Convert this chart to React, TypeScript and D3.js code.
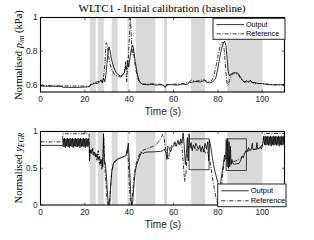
import React from "react";
import * as d3 from "d3";

const xTicks = [0, 20, 40, 60, 80, 100];
const pimTicks = [0.6, 0.8, 1];
const egrTicks = [0, 0.5, 1];
const pimTickLabels = ["0.6", "0.8", "1"];
const egrTickLabels = ["0", "0.5", "1"];

// shaded time intervals (s)
const shaded: [number, number][] = [
  [22.2, 24.9], [25.8, 28.5], [32.1, 34.8], [39.2, 39.8], [43.0, 51.8],
  [55.7, 57.0], [67.9, 74.2], [84.2, 100.0],
];

// highlight boxes in bottom plot: [t0, t1, y0, y1]
const boxes: [number, number, number, number][] = [
  [67.0, 76.0, 0.48, 0.9],
  [83.7, 92.8, 0.47, 0.9],
];

const pimOut: [number, number][] = [
  [0,.592],[5,.591],[9.8,.591],[10,.585],[15,.584],[20,.586],[22,.588],[22.5,.60],[23.5,.603],[24.5,.61],[25.5,.607],[26.5,.615],[27.3,.628],[27.8,.612],[28.4,.64],[29,.618],[29.5,.66],[30,.73],[30.5,.80],[30.9,.825],[31.4,.80],[32,.75],[33,.705],[34,.675],[35,.66],[36,.652],[37,.657],[37.8,.675],[38.4,.71],[38.8,.69],[39.3,.745],[39.8,.705],[40.4,.77],[41,.815],[41.6,.835],[42.1,.80],[42.7,.74],[43.4,.68],[44.2,.635],[45,.612],[46,.603],[48,.60],[50,.602],[52,.598],[54,.60],[55.5,.596],[56.2,.585],[56.8,.598],[58,.601],[60,.60],[62,.598],[64,.606],[66,.601],[67,.612],[68.5,.616],[70,.619],[72,.617],[74,.626],[75,.614],[76.5,.611],[78,.62],[79,.64],[80,.70],[81,.775],[82,.835],[83,.86],[83.6,.835],[84.1,.76],[84.6,.68],[85.2,.652],[86,.665],[87,.672],[88,.672],[89,.669],[90,.65],[91,.627],[92,.616],[93,.625],[93.8,.614],[94.6,.628],[95.3,.612],[96.5,.615],[98,.607],[100,.608],[102,.601],[105,.599],[108,.60],[110,.598],
];

const pimRef: [number, number][] = [
  [0,.596],[10,.593],[22,.592],[23,.606],[25,.615],[26.5,.622],[27.5,.63],[28,.612],[28.6,.66],[29.1,.74],[29.6,.85],[30.1,.845],[30.6,.78],[31.2,.73],[32,.695],[33,.668],[34,.656],[35,.65],[36,.646],[37,.652],[37.9,.675],[38.4,.74],[38.8,.617],[39.4,.72],[40,.86],[40.5,1.0],[40.9,.9],[41.3,.78],[41.8,.81],[42.4,.745],[43.2,.675],[44,.632],[45,.612],[46,.604],[50,.606],[55,.602],[56.2,.59],[57,.60],[60,.603],[65,.606],[67,.617],[68,.628],[70,.621],[72,.626],[73.5,.631],[75,.62],[77,.622],[78,.645],[79,.70],[80,.77],[81,.83],[82,.855],[82.5,.845],[83,.78],[83.6,.67],[84.1,.61],[84.6,.597],[85.2,.625],[86,.66],[87,.665],[88,.667],[89,.662],[90,.642],[91.5,.62],[93,.615],[94.6,.625],[96,.61],[100,.606],[105,.602],[110,.60],
];

const egrOut: [number, number][] = [
  [0,.81],[5,.812],[9.9,.81],
  [10.0,.80],[10.3,.90],[10.6,.79],[10.9,.91],[11.2,.78],[11.5,.90],[11.8,.80],[12.1,.91],[12.4,.79],[12.7,.90],[13.0,.78],[13.3,.91],[13.6,.80],[13.9,.90],[14.2,.79],[14.5,.91],[14.8,.78],[15.1,.90],[15.4,.80],[15.7,.91],[16.0,.79],[16.3,.90],[16.6,.79],[16.9,.91],[17.2,.80],[17.5,.90],[17.8,.78],[18.1,.91],[18.4,.79],[18.7,.90],[19.0,.80],[19.3,.91],[19.6,.79],[19.9,.90],[20.2,.78],[20.5,.91],[20.8,.80],[21.1,.90],[21.4,.79],[21.7,.91],[22.0,.80],
  [22.1,.60],[22.3,.74],[22.8,.70],[23.3,.76],[23.8,.68],[24.4,.72],[25,.65],[25.5,.70],[26,.62],[26.6,.66],[27.2,.56],[27.7,.62],[28.1,.52],[28.4,.97],[28.8,.62],[29.3,.55],[29.8,.35],[30.3,.12],[30.7,0.0],[31.2,0.0],[31.6,.25],[32.2,.48],[33,.58],[34,.61],[35,.63],[36,.64],[37,.655],[38,.665],[38.6,.67],[39.1,.73],[39.6,.84],[40,.62],[40.4,.35],[40.8,.08],[41.2,0],[41.6,0.05],[42.2,.30],[42.8,.48],[43.5,.56],[44.2,.62],[45,.68],[45.6,.72],[46.2,.70],[47,.715],[48,.72],[50,.722],[52,.725],[54,.73],[55,.735],[55.8,.76],[56.5,.72],[57,.62],[57.4,.80],[58,.78],[58.6,.72],[59.2,.78],[60,.80],[60.6,.86],[61.2,.80],[62,.88],[62.6,.82],[63.2,.90],[63.8,.84],[64.3,.98],[64.8,.80],[65.3,.55],[65.8,.72],[66.2,.92],[66.6,.60],[67,.97],[67.4,.78],[67.9,.85],[68.4,.74],[68.9,.82],[69.5,.77],[70,.84],[70.6,.80],[71.2,.76],[71.8,.81],[72.4,.74],[73,.80],[73.6,.72],[74.2,.84],[74.8,.76],[75.4,.86],[75.8,.60],[76.2,.88],[76.8,.78],[77.4,.66],[78,.55],[78.6,.46],[79.3,.38],[80,.30],[80.7,.25],[81.3,.32],[81.9,.45],[82.5,.58],[83,.68],[83.5,.62],[83.8,.88],[84.1,.52],[84.4,.90],[84.7,.50],[85,.86],[85.3,.52],[85.6,.80],[85.9,.55],[86.3,.62],[86.8,.56],[87.5,.555],[88.5,.56],[89.5,.565],[90.2,.60],[90.8,.66],[91.4,.64],[92,.70],[92.6,.74],[93.2,.73],[93.8,.78],[94.3,.74],[95,.76],[95.5,.84],[95.8,.75],[96.5,.76],[97.2,.75],[97.6,.85],[97.9,.76],[98.5,.77],[99.2,.79],[99.6,.76],[100,.80],
  [100.4,.86],[100.7,.93],[101.0,.82],[101.3,.94],[101.6,.81],[101.9,.93],[102.2,.82],[102.5,.94],[102.8,.81],[103.1,.93],[103.4,.82],[103.7,.94],[104.0,.80],[104.3,.93],[104.6,.82],[104.9,.94],[105.2,.81],[105.5,.93],[105.8,.82],[106.1,.94],[106.4,.81],[106.7,.93],[107.0,.82],[107.3,.94],[107.6,.80],[107.9,.93],[108.2,.82],[108.5,.94],[108.8,.81],[109.1,.93],[109.4,.82],[109.7,.94],[110.0,.83],
];

const egrRef: [number, number][] = [
  [0,.86],[5,.858],[9.9,.86],[10.1,.97],[15,.97],[21.9,.97],[22.1,.62],[22.5,.76],[23,.72],[23.6,.78],[24.2,.66],[24.8,.70],[25.4,.60],[26,.74],[26.6,.55],[27.2,.62],[27.6,.48],[28.1,.58],[28.5,.92],[28.9,.55],[29.5,.30],[30,.05],[30.5,0.0],[31,0.0],[31.5,.2],[32.1,.45],[33,.57],[34,.60],[35,.625],[36,.64],[37,.65],[38,.66],[38.7,.70],[39.2,.78],[39.6,.60],[40,.30],[40.5,.02],[41,0],[41.5,.15],[42.2,.40],[43,.55],[44,.64],[45,.72],[46,.74],[47,.755],[48.5,.77],[50,.79],[51.5,.81],[53,.85],[54.2,.90],[55,.96],[55.6,.93],[56.3,.78],[57,.70],[57.6,.62],[58.2,.72],[59,.80],[60,.84],[61,.80],[62,.83],[63,.86],[63.8,.78],[64.4,.55],[65,.32],[65.6,.45],[66.2,.70],[66.8,.82],[67.5,.80],[68.5,.76],[69.5,.79],[70.5,.74],[71.5,.78],[72.5,.72],[73.5,.76],[74.5,.70],[75.5,.72],[76.3,.62],[77,.48],[77.8,.32],[78.6,.18],[79.4,.06],[80.2,.0],[80.8,.04],[81.5,.22],[82.2,.45],[83,.62],[83.8,.72],[84.5,.64],[85.2,.60],[86,.58],[87,.59],[88,.60],[89,.61],[90,.63],[91,.66],[92,.71],[93,.73],[94,.74],[95,.75],[96,.755],[97,.76],[98,.77],[99,.78],[100,.82],[100.6,.94],[101,.97],[105,.975],[110,.97],
];

const W = 314, H = 240;
const X0 = 40.5, X1 = 284.5;
const TOP = { y0: 17.5, y1: 92, dom: [0.557, 1] as [number, number] };
const BOT = { y0: 131.5, y1: 205, dom: [0, 1] as [number, number] };
const SANS = "'Liberation Sans', Arial, sans-serif";
const SERIF = "'Liberation Serif', 'Times New Roman', serif";
const DASHDOT = "4,1.5,1,1.5";

function Panel(props: {
  y0: number; y1: number; dom: [number, number]; out: [number, number][]; ref_: [number, number][];
  ticks: number[]; tickLabels: string[]; id: string; withBoxes?: boolean;
  legend: { x0: number; y0: number; x1: number; y1: number; fs: number };
}) {
  const { y0, y1, dom, out, ref_, ticks, tickLabels, id, withBoxes, legend } = props;
  const x = d3.scaleLinear().domain([0, 110]).range([X0, X1]);
  const y = d3.scaleLinear().domain(dom).range([y1, y0]);
  const line = d3.line<[number, number]>().x((d) => x(d[0])).y((d) => y(d[1]));
  const ly1 = legend.y0 + (legend.y1 - legend.y0) * 0.3;
  const ly2 = legend.y0 + (legend.y1 - legend.y0) * 0.74;
  return (
    <g>
      <defs>
        <clipPath id={id}>
          <rect x={X0} y={y0} width={X1 - X0} height={y1 - y0} />
        </clipPath>
      </defs>
      <rect x={X0} y={y0} width={X1 - X0} height={y1 - y0} fill="#fff" />
      {shaded.map(([a, b], i) => (
        <rect key={i} x={x(a)} y={y0} width={x(b) - x(a)} height={y1 - y0} fill="#d9d9d9" />
      ))}
      <g clipPath={`url(#${id})`}>
        <path d={line(ref_) || ""} fill="none" stroke="#000" strokeWidth={0.8} strokeDasharray={DASHDOT} />
        <path d={line(out) || ""} fill="none" stroke="#000" strokeWidth={0.8} />
      </g>
      {withBoxes &&
        boxes.map(([a, b, c, dd], i) => (
          <rect key={i} x={x(a)} y={y(dd)} width={x(b) - x(a)} height={y(c) - y(dd)} fill="none" stroke="#333" strokeWidth={0.9} />
        ))}
      <rect x={X0} y={y0} width={X1 - X0} height={y1 - y0} fill="none" stroke="#000" strokeWidth={1.1} />
      {xTicks.map((t) => (
        <g key={t}>
          <line x1={x(t)} x2={x(t)} y1={y1} y2={y1 - 2.5} stroke="#000" strokeWidth={0.6} />
          <line x1={x(t)} x2={x(t)} y1={y0} y2={y0 + 2.5} stroke="#000" strokeWidth={0.6} />
          <text x={x(t)} y={y1 + 10} textAnchor="middle" fontFamily={SANS} fontSize={8.3} fill="#262626">{t}</text>
        </g>
      ))}
      {ticks.map((t, i) => (
        <g key={t}>
          <line x1={X0} x2={X0 + 2.5} y1={y(t)} y2={y(t)} stroke="#000" strokeWidth={0.6} />
          <line x1={X1} x2={X1 - 2.5} y1={y(t)} y2={y(t)} stroke="#000" strokeWidth={0.6} />
          <text x={X0 - 3} y={y(t)} dy="0.35em" textAnchor="end" fontFamily={SANS} fontSize={8.3} fill="#262626">{tickLabels[i]}</text>
        </g>
      ))}
      <text x={163} y={y1 + 22.5} textAnchor="middle" fontFamily={SANS} fontSize={10} fill="#262626">Time (s)</text>
      <rect x={legend.x0} y={legend.y0} width={legend.x1 - legend.x0} height={legend.y1 - legend.y0} fill="#fff" stroke="#262626" strokeWidth={1} />
      <line x1={legend.x0 + 3.5} x2={legend.x0 + 31} y1={ly1} y2={ly1} stroke="#000" strokeWidth={0.8} />
      <line x1={legend.x0 + 3.5} x2={legend.x0 + 31} y1={ly2} y2={ly2} stroke="#000" strokeWidth={0.8} strokeDasharray={DASHDOT} />
      <text x={legend.x0 + 33} y={ly1} dy="0.35em" fontFamily={SANS} fontSize={legend.fs} fill="#000">Output</text>
      <text x={legend.x0 + 33} y={ly2} dy="0.35em" fontFamily={SANS} fontSize={legend.fs} fill="#000">Reference</text>
    </g>
  );
}

export default function App() {
  return (
    <svg width={W} height={H} style={{ position: "fixed", left: 0, top: 0, background: "#fff" }}>
      <rect width={W} height={H} fill="#fff" />
      <text x={162} y={12} textAnchor="middle" fontFamily={SERIF} fontSize={11} fill="#000">WLTC1 - Initial calibration (baseline)</text>
      <text transform="translate(22,55) rotate(-90)" textAnchor="middle" fontFamily={SERIF} fontSize={10.5} fill="#000">
        Normalised <tspan fontStyle="italic">p</tspan>
        <tspan fontStyle="italic" fontSize={7.5} dy={2}>im</tspan>
        <tspan dy={-2}> (kPa)</tspan>
      </text>
      <text transform="translate(22,168) rotate(-90)" textAnchor="middle" fontFamily={SERIF} fontSize={10.5} fill="#000">
        Normalised <tspan fontStyle="italic">y</tspan>
        <tspan fontStyle="italic" fontSize={7.5} dy={2}>EGR</tspan>
      </text>
      <Panel id="cTop" y0={TOP.y0} y1={TOP.y1} dom={TOP.dom} out={pimOut} ref_={pimRef} ticks={pimTicks} tickLabels={pimTickLabels}
        legend={{ x0: 213, y0: 18.3, x1: 285, y1: 39.3, fs: 7.2 }} />
      <Panel id="cBot" y0={BOT.y0} y1={BOT.y1} dom={BOT.dom} out={egrOut} ref_={egrRef} ticks={egrTicks} tickLabels={egrTickLabels} withBoxes
        legend={{ x0: 217.7, y0: 184, x1: 286, y1: 206.7, fs: 7.5 }} />
    </svg>
  );
}
